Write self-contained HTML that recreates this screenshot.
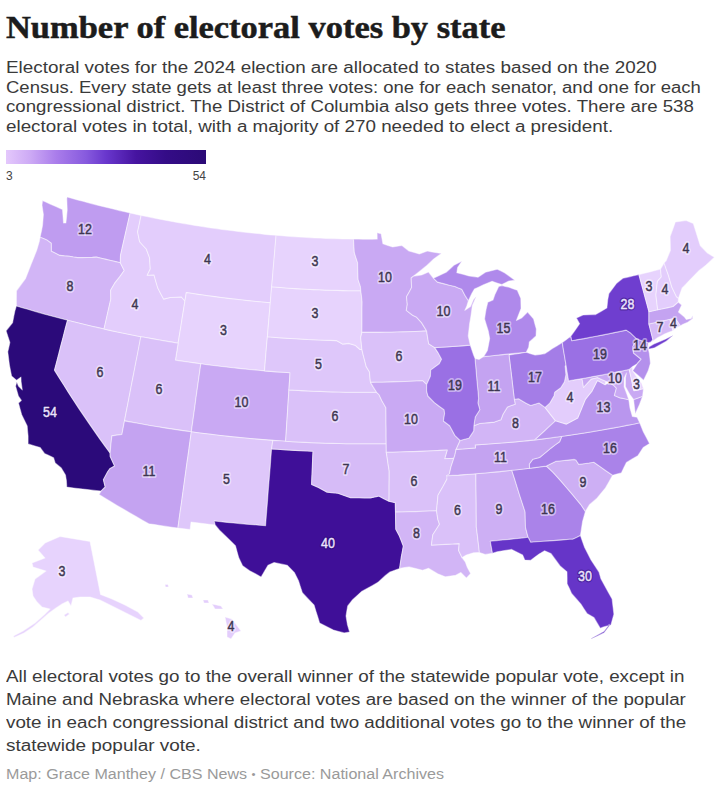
<!DOCTYPE html>
<html><head><meta charset="utf-8"><style>
html,body{margin:0;padding:0;background:#fff;width:720px;height:790px;overflow:hidden}
body{position:relative;font-family:"Liberation Sans",sans-serif;color:#333}
.t,.p,.f,.c{position:absolute;left:6px;white-space:nowrap;transform-origin:0 0}
.t{font-family:"Liberation Serif",serif;font-weight:bold;font-size:32px;line-height:40px;color:#1c1c1c;-webkit-text-stroke:0.5px #1c1c1c}
.p{font-size:16px;line-height:20px;color:#3a3a3a}
.f{font-size:16px;line-height:20px;color:#3a3a3a}
.c{font-size:14px;line-height:18px;color:#9a9a9a}
svg{position:absolute;left:0;top:0}
svg text{font-family:"Liberation Sans",sans-serif;font-size:14.5px;text-anchor:middle;paint-order:stroke;stroke-linejoin:round}
text.dh{fill:none;stroke:rgba(255,255,255,0.45);stroke-width:4px} text.d{fill:#3d3650;stroke:#3d3650;stroke-width:0.45px}
text.wh{fill:none;stroke:rgba(30,5,90,0.4);stroke-width:3px} text.w{fill:#ebe3fc;stroke:#ebe3fc;stroke-width:0.45px}
</style></head><body>
<div class="t" style="top:6.5px;transform:scaleX(1.0761)">Number of electoral votes by state</div><div class="p" style="top:57.8px;transform:scaleX(1.1779)">Electoral votes for the 2024 election are allocated to states based on the 2020</div><div class="p" style="top:77.5px;transform:scaleX(1.1557)">Census. Every state gets at least three votes: one for each senator, and one for each</div><div class="p" style="top:96.7px;transform:scaleX(1.1660)">congressional district. The District of Columbia also gets three votes. There are 538</div><div class="p" style="top:116.7px;transform:scaleX(1.1750)">electoral votes in total, with a majority of 270 needed to elect a president.</div><div class="f" style="top:667px;transform:scaleX(1.1753)">All electoral votes go to the overall winner of the statewide popular vote, except in</div><div class="f" style="top:690px;transform:scaleX(1.1687)">Maine and Nebraska where electoral votes are based on the winner of the popular</div><div class="f" style="top:713px;transform:scaleX(1.1747)">vote in each congressional district and two additional votes go to the winner of the</div><div class="f" style="top:736px;transform:scaleX(1.1840)">statewide popular vote.</div><div class="c" style="top:765px;transform:scaleX(1.1475)">Map: Grace Manthey / CBS News <span style="font-size:10px;vertical-align:1px">•</span> Source: National Archives</div>
<div style="position:absolute;left:6px;top:150px;width:200px;height:14px;background:linear-gradient(90deg,rgb(228,200,252) 0%,rgb(205,170,245) 12%,rgb(170,125,235) 25%,rgb(135,90,222) 40%,rgb(105,55,205) 50%,rgb(70,20,160) 65%,rgb(52,12,135) 80%,rgb(43,10,118) 100%)"></div>
<div style="position:absolute;left:6px;top:168.5px;font-size:12px;line-height:14px;color:#444">3</div>
<div style="position:absolute;left:176px;top:168.5px;width:30px;text-align:right;font-size:12px;line-height:14px;color:#444">54</div>
<svg width="720" height="790" viewBox="0 0 720 790"><g stroke="rgba(255,255,255,0.45)" stroke-width="1.1" stroke-linejoin="round"><path fill="#bf9cf0" d="M42.5,200.5L46.3,202.2L50.0,204.0L53.5,205.5L57.0,206.9L59.7,208.3L62.5,209.6L63.0,216.3L63.5,223.0L65.9,223.0L66.6,216.5L67.2,210.1L67.0,204.3L66.8,198.5L67.2,196.9L72.4,198.4L77.6,199.9L82.9,201.3L88.1,202.7L93.3,204.1L98.6,205.4L103.8,206.7L109.1,208.0L114.3,209.3L119.6,210.6L124.8,211.8L130.1,213.0L128.5,220.0L126.9,227.0L125.3,234.1L123.7,241.1L122.1,248.2L120.5,255.3L120.3,262.7L115.5,261.6L110.7,260.5L106.0,259.4L101.2,258.3L96.4,257.1L92.4,257.4L87.5,257.5L82.5,257.6L77.6,257.6L73.4,257.0L69.3,256.3L64.4,255.9L59.6,255.4L55.4,253.3L51.3,251.3L51.2,243.3L46.7,239.9L43.4,238.5L40.1,237.2L41.7,229.9L42.6,224.9L43.0,219.7L43.4,214.5L42.0,205.2Z"/><path fill="#d2b5f6" d="M40.1,237.2L43.4,238.5L46.7,239.9L51.2,243.3L51.3,251.3L55.4,253.3L59.6,255.4L64.4,255.9L69.3,256.3L73.4,257.0L77.6,257.6L82.5,257.6L87.5,257.5L92.4,257.4L96.4,257.1L101.2,258.3L106.0,259.4L110.7,260.5L115.5,261.6L120.3,262.7L124.2,270.5L119.9,276.6L114.7,283.2L110.6,290.2L110.8,299.0L109.1,306.5L107.4,314.0L105.7,321.5L104.0,329.0L97.9,327.6L91.8,326.2L85.7,324.8L79.6,323.3L73.5,321.8L67.5,320.3L61.8,318.8L56.1,317.3L50.4,315.7L44.7,314.2L39.0,312.6L33.4,311.0L27.7,309.3L22.1,307.7L16.4,306.0L16.4,298.4L16.5,290.8L21.1,284.6L25.6,278.4L28.4,271.2L31.2,264.0L34.1,256.9L36.9,249.7L39.3,241.6Z"/><path fill="#2b0a7a" d="M16.4,306.0L22.1,307.7L27.7,309.3L33.4,311.0L39.0,312.6L44.7,314.2L50.4,315.7L56.1,317.3L61.8,318.8L67.5,320.3L65.3,328.5L63.2,336.8L61.0,345.1L58.9,353.5L56.7,361.8L54.5,370.1L59.2,377.7L64.0,385.3L68.8,392.9L73.7,400.5L78.7,408.1L83.8,415.6L88.9,423.1L94.1,430.6L99.3,438.1L104.7,445.6L110.1,453.0L110.2,456.6L114.6,466.1L109.8,468.7L107.7,471.8L103.4,479.7L105.2,487.0L101.1,491.1L94.3,490.4L87.4,489.6L80.5,488.8L73.7,488.0L66.8,487.1L66.4,480.6L65.5,475.1L61.3,468.0L55.2,463.0L53.6,457.7L49.0,455.6L44.5,453.4L40.2,447.5L34.1,445.7L28.1,443.9L28.1,435.9L27.6,430.9L27.2,425.9L24.4,420.3L21.7,414.7L20.1,408.9L18.5,403.1L21.4,400.4L18.4,396.0L15.6,386.2L16.8,381.9L18.4,386.1L22.3,389.9L21.1,381.5L21.0,377.1L16.6,380.3L11.6,376.1L10.5,370.5L9.4,364.8L8.6,358.3L7.8,351.8L8.9,347.1L9.9,342.5L8.0,336.7L6.1,330.8L9.3,326.8L12.6,322.7L13.7,316.8L14.9,310.9Z"/><path fill="#dac1f9" d="M67.5,320.3L73.6,321.8L79.6,323.3L85.7,324.8L91.8,326.2L98.0,327.6L104.1,329.0L110.2,330.4L116.3,331.7L122.5,333.0L128.6,334.2L134.8,335.5L140.9,336.7L139.3,345.1L137.7,353.5L136.0,361.9L134.4,370.3L132.7,378.7L131.1,387.2L129.4,395.6L127.8,404.0L126.1,412.4L124.5,420.9L123.2,427.7L121.9,434.5L116.9,435.1L111.9,435.9L111.1,442.7L110.6,447.9L110.1,453.0L104.7,445.6L99.3,438.1L94.1,430.6L88.9,423.1L83.8,415.6L78.7,408.1L73.7,400.5L68.8,392.9L64.0,385.3L59.2,377.7L54.5,370.1L56.7,361.8L58.9,353.5L61.0,345.1L63.2,336.8L65.3,328.5Z"/><path fill="#e3cdfc" d="M130.1,213.0L135.6,214.2L141.1,215.4L139.4,223.6L137.6,231.8L138.6,236.8L139.6,241.7L143.0,245.5L146.4,249.2L149.5,257.6L149.9,263.3L150.3,268.9L147.2,275.3L150.6,275.1L154.0,274.9L155.8,281.3L157.7,287.7L160.6,293.4L163.6,299.1L170.1,297.5L175.7,297.2L181.3,296.9L184.9,301.0L183.6,309.4L182.2,317.8L180.9,326.3L179.5,334.7L178.1,343.2L171.9,342.1L165.7,341.1L159.5,340.0L153.3,338.9L147.1,337.8L140.9,336.7L134.8,335.5L128.6,334.2L122.4,333.0L116.3,331.7L110.1,330.4L104.0,329.0L105.7,321.5L107.4,314.0L109.1,306.5L110.8,299.0L110.6,290.2L114.7,283.2L119.9,276.6L124.2,270.5L120.3,262.7L120.5,255.3L122.1,248.2L123.7,241.1L125.3,234.1L126.9,227.0L128.5,220.0Z"/><path fill="#e3cdfc" d="M141.1,215.4L146.5,216.5L151.8,217.6L157.2,218.7L162.5,219.7L167.9,220.7L173.3,221.7L178.7,222.7L184.0,223.6L189.4,224.5L194.8,225.4L200.2,226.2L205.6,227.1L211.0,227.9L216.4,228.6L221.8,229.4L227.3,230.1L232.7,230.8L238.1,231.5L243.5,232.1L249.0,232.7L254.4,233.3L259.8,233.8L265.3,234.4L270.7,234.9L276.2,235.3L275.4,243.7L274.7,252.1L274.0,260.5L273.3,268.9L272.6,277.4L271.8,285.8L271.1,294.3L270.4,302.8L264.8,302.3L259.1,301.8L253.5,301.2L247.9,300.6L242.3,300.0L236.7,299.4L231.0,298.8L225.4,298.1L219.8,297.4L214.2,296.6L208.6,295.9L203.0,295.1L197.4,294.3L191.9,293.4L186.3,292.6L184.9,301.0L181.3,296.9L175.7,297.2L170.1,297.5L163.6,299.1L160.6,293.4L157.7,287.7L155.8,281.3L154.0,274.9L150.6,275.1L147.2,275.3L150.3,268.9L149.9,263.3L149.5,257.6L146.4,249.2L143.0,245.5L139.6,241.7L138.6,236.8L137.6,231.8L139.4,223.6Z"/><path fill="#e7d3fd" d="M186.3,292.6L192.3,293.5L198.2,294.4L204.2,295.3L210.2,296.1L216.2,296.9L222.2,297.7L228.2,298.4L234.2,299.1L240.2,299.8L246.2,300.5L252.2,301.1L258.2,301.7L264.3,302.2L270.3,302.7L269.6,311.2L268.8,319.7L268.1,328.2L267.4,336.7L266.6,345.3L265.9,353.8L265.2,362.3L264.5,370.9L258.1,370.3L251.7,369.7L245.3,369.1L238.9,368.4L232.6,367.8L226.2,367.0L219.8,366.3L213.5,365.5L207.1,364.7L200.8,363.8L194.4,362.9L188.1,362.0L181.8,361.1L175.4,360.1L176.8,351.6L178.1,343.2L179.5,334.7L180.9,326.3L182.2,317.8L183.6,309.4L184.9,301.0Z"/><path fill="#dac1f9" d="M140.8,336.6L147.0,337.8L153.2,338.9L159.5,340.0L165.7,341.1L171.9,342.1L178.1,343.2L176.8,351.6L175.4,360.1L181.8,361.1L188.1,362.0L194.4,362.9L200.8,363.8L199.6,372.3L198.4,380.8L197.2,389.3L196.0,397.8L194.9,406.3L193.7,414.8L192.5,423.3L191.3,431.8L184.6,430.9L177.9,429.9L171.2,428.9L164.5,427.9L157.8,426.8L151.2,425.7L144.5,424.5L137.8,423.3L131.2,422.1L124.5,420.9L126.1,412.4L127.8,404.0L129.4,395.6L131.0,387.1L132.7,378.7L134.3,370.3L135.9,361.9L137.6,353.5L139.2,345.0Z"/><path fill="#c9a9f3" d="M200.8,363.8L207.1,364.7L213.5,365.5L219.8,366.3L226.2,367.0L232.6,367.8L238.9,368.4L245.3,369.1L251.7,369.7L258.1,370.3L264.5,370.9L270.8,371.4L277.2,371.9L283.6,372.3L290.0,372.7L289.5,381.3L288.9,389.9L288.4,398.4L287.8,407.0L287.3,415.6L286.7,424.1L286.2,432.7L285.6,441.3L278.9,440.8L272.1,440.3L265.4,439.8L258.6,439.3L251.9,438.7L245.1,438.1L238.4,437.4L231.6,436.7L224.9,436.0L218.2,435.2L211.5,434.4L204.7,433.6L198.0,432.7L191.3,431.8L192.5,423.3L193.7,414.8L194.9,406.3L196.0,397.8L197.2,389.3L198.4,380.8L199.6,372.3Z"/><path fill="#c4a3f1" d="M124.5,420.9L131.2,422.1L137.8,423.3L144.5,424.5L151.2,425.7L157.8,426.8L164.5,427.9L171.2,428.9L177.9,429.9L184.6,430.9L191.3,431.8L190.2,439.8L189.1,447.9L188.0,455.9L186.8,463.9L185.7,472.0L184.6,480.0L183.5,488.0L182.4,496.0L181.3,504.0L180.1,512.0L179.0,520.0L177.9,528.0L172.1,527.2L166.3,526.4L160.4,525.5L154.6,524.6L148.8,523.7L142.5,520.2L136.2,516.6L130.0,513.0L123.7,509.3L117.5,505.7L111.4,502.0L105.2,498.3L99.1,494.5L101.1,491.1L105.2,487.0L103.4,479.7L107.7,471.8L109.8,468.7L114.6,466.1L110.2,456.6L110.1,453.0L110.6,447.9L111.1,442.7L111.9,435.9L116.9,435.1L121.9,434.5L123.2,427.7Z"/><path fill="#dec7fa" d="M191.3,431.8L197.6,432.7L203.8,433.5L210.1,434.2L216.3,435.0L222.6,435.7L228.8,436.4L235.1,437.1L241.4,437.7L247.7,438.3L253.9,438.9L260.2,439.4L266.5,439.9L272.8,440.4L271.6,448.9L270.9,457.5L270.3,466.0L269.6,474.6L268.9,483.1L268.2,491.6L267.6,500.2L266.9,508.7L266.2,517.2L265.6,525.7L259.2,525.3L252.7,524.7L246.3,524.2L239.9,523.6L233.5,523.0L227.1,522.4L220.7,521.7L214.3,521.0L215.2,524.9L209.2,524.2L203.1,523.5L197.1,522.8L191.0,522.0L190.1,529.6L184.0,528.8L177.9,528.0L179.0,520.0L180.1,512.0L181.3,504.0L182.4,496.0L183.5,488.0L184.6,480.0L185.7,472.0L186.8,463.9L188.0,455.9L189.1,447.9L190.2,439.8Z"/><path fill="#3f0f98" d="M271.6,448.9L277.5,449.3L283.4,449.7L289.3,450.1L295.2,450.4L301.1,450.7L307.1,451.0L313.0,451.3L312.6,459.6L312.3,467.9L311.9,476.2L311.6,484.5L318.5,487.5L322.6,489.8L326.7,492.1L332.3,492.7L338.0,493.3L344.2,495.5L350.6,497.8L354.8,497.8L359.0,497.8L364.7,497.9L370.3,497.9L374.6,497.0L378.8,496.1L383.9,498.7L389.0,501.3L395.3,502.7L395.4,507.4L395.5,512.1L395.6,520.7L395.8,529.2L399.4,536.0L401.4,541.0L403.3,546.1L402.4,551.3L401.4,556.4L400.5,562.4L399.6,568.4L394.7,570.2L389.9,571.9L385.4,575.4L378.0,582.3L372.5,585.4L367.0,588.5L361.5,591.6L356.9,595.8L352.3,600.0L347.7,605.9L346.8,611.0L346.0,616.0L347.4,624.5L349.6,632.1L344.2,632.9L338.8,631.5L333.4,630.1L326.5,626.6L319.6,623.0L317.8,617.0L315.9,611.1L314.1,605.1L308.2,598.9L302.4,592.7L300.4,586.7L298.5,580.7L294.4,572.6L287.3,565.3L280.7,563.9L274.1,562.6L268.0,565.2L264.6,571.1L261.1,577.0L255.4,573.8L249.6,570.7L242.6,565.8L238.8,557.8L237.1,551.8L235.5,545.8L231.5,541.8L227.4,537.8L223.4,534.0L219.5,530.2L215.2,524.9L214.3,521.0L220.7,521.7L227.1,522.4L233.5,523.0L239.9,523.6L246.3,524.2L252.7,524.7L259.2,525.3L265.6,525.7L266.2,517.2L266.9,508.7L267.6,500.2L268.2,491.6L268.9,483.1L269.6,474.6L270.3,466.0L270.9,457.5Z"/><path fill="#d6bbf7" d="M272.8,440.4L279.4,440.8L286.1,441.3L292.8,441.7L299.4,442.1L306.1,442.4L312.8,442.7L319.4,443.0L326.1,443.2L332.8,443.4L339.5,443.5L346.1,443.7L352.8,443.8L359.5,443.8L366.2,443.8L372.8,443.8L379.5,443.8L386.2,443.7L386.3,452.3L387.3,458.6L388.2,464.8L389.2,471.1L389.2,478.7L389.1,486.2L389.1,493.8L389.0,501.3L383.9,498.7L378.8,496.1L374.6,497.0L370.3,497.9L364.7,497.9L359.0,497.8L354.8,497.8L350.6,497.8L344.2,495.5L338.0,493.3L332.3,492.7L326.7,492.1L322.6,489.8L318.5,487.5L311.6,484.5L311.9,476.2L312.3,467.9L312.6,459.6L313.0,451.3L307.1,451.0L301.1,450.7L295.2,450.4L289.3,450.1L283.4,449.7L277.5,449.3L271.6,448.9Z"/><path fill="#dac1f9" d="M288.9,389.9L295.2,390.2L301.4,390.6L307.7,390.9L313.9,391.2L320.2,391.4L326.5,391.7L332.7,391.9L339.0,392.0L345.3,392.2L351.5,392.2L357.8,392.3L364.1,392.3L370.3,392.3L376.6,392.3L379.2,394.9L381.9,400.8L385.9,407.7L386.0,414.9L386.0,422.1L386.1,429.3L386.1,436.5L386.2,443.7L379.5,443.8L372.8,443.8L366.1,443.8L359.4,443.8L352.6,443.8L345.9,443.7L339.2,443.5L332.5,443.4L325.8,443.2L319.1,442.9L312.4,442.7L305.7,442.4L299.0,442.0L292.3,441.7L285.6,441.3L286.2,432.7L286.7,424.1L287.3,415.6L287.8,407.0L288.4,398.4Z"/><path fill="#dec7fa" d="M267.4,336.7L273.1,337.2L278.9,337.7L284.6,338.1L290.3,338.5L296.1,338.8L301.8,339.1L307.6,339.5L313.3,339.7L319.1,340.0L324.9,340.2L330.6,340.4L336.4,340.6L342.5,344.1L348.8,343.4L355.0,345.2L360.0,349.5L361.9,349.5L363.1,354.6L364.7,360.6L366.2,366.6L369.4,371.8L369.9,377.1L370.5,382.4L373.5,387.4L376.6,392.3L370.3,392.3L364.1,392.3L357.8,392.3L351.5,392.2L345.3,392.2L339.0,392.0L332.7,391.9L326.5,391.7L320.2,391.4L313.9,391.2L307.7,390.9L301.4,390.6L295.2,390.2L288.9,389.9L289.5,381.3L290.0,372.7L283.6,372.3L277.2,371.9L270.8,371.4L264.5,370.9L265.2,362.3L265.9,353.8L266.6,345.3Z"/><path fill="#e7d3fd" d="M271.6,286.8L277.6,287.3L283.5,287.8L289.4,288.2L295.4,288.6L301.3,288.9L307.3,289.3L313.2,289.6L319.2,289.8L325.1,290.1L331.1,290.3L337.0,290.4L343.0,290.6L348.9,290.7L354.9,290.8L360.8,290.8L361.5,296.3L362.1,301.7L362.0,309.4L362.0,317.0L362.0,324.7L361.9,332.4L360.7,337.5L361.3,343.5L361.9,349.5L360.0,349.5L355.0,345.2L348.8,343.4L342.5,344.1L336.4,340.6L330.6,340.4L324.9,340.2L319.1,340.0L313.3,339.7L307.6,339.5L301.8,339.1L296.1,338.8L290.3,338.5L284.6,338.1L278.9,337.7L273.1,337.2L267.4,336.7L268.1,328.4L268.8,320.1L269.5,311.7L270.2,303.4L270.9,295.1Z"/><path fill="#e7d3fd" d="M276.0,235.3L281.6,235.8L287.1,236.2L292.6,236.6L298.1,237.0L303.7,237.3L309.2,237.6L314.7,237.9L320.3,238.1L325.8,238.4L331.4,238.6L336.9,238.7L342.4,238.9L348.0,239.0L353.5,239.1L353.9,245.8L354.3,252.5L355.9,257.6L357.6,262.7L357.8,271.2L358.1,279.6L360.4,286.4L360.8,290.8L354.9,290.8L348.9,290.7L343.0,290.6L337.0,290.4L331.1,290.3L325.1,290.1L319.2,289.8L313.2,289.6L307.3,289.3L301.3,288.9L295.4,288.6L289.4,288.2L283.5,287.8L277.6,287.3L271.6,286.8L272.3,279.4L272.9,272.0L273.5,264.7L274.2,257.3L274.8,250.0L275.4,242.6Z"/><path fill="#c9a9f3" d="M353.5,239.1L358.2,239.1L363.0,239.2L367.7,239.2L372.4,239.2L377.2,239.1L377.1,232.7L381.1,233.7L382.0,238.7L382.9,243.8L387.8,245.4L392.7,246.9L397.3,246.2L401.8,245.4L405.4,248.2L408.9,251.0L414.2,252.5L419.4,253.9L423.4,252.5L427.4,251.0L432.0,251.9L436.7,252.7L441.4,253.5L437.5,256.3L433.6,259.1L429.8,262.7L425.9,266.3L422.5,269.0L419.1,271.7L413.4,276.2L411.2,278.0L411.4,282.8L411.6,287.6L409.1,292.2L406.5,296.8L407.3,304.4L406.3,310.4L412.6,315.3L416.3,316.9L421.5,322.6L426.6,330.9L420.7,331.2L414.8,331.5L409.0,331.7L403.1,331.9L397.2,332.0L391.3,332.2L385.4,332.3L379.6,332.4L373.7,332.4L367.8,332.4L361.9,332.4L362.0,324.7L362.0,317.0L362.0,309.4L362.1,301.7L361.5,296.3L360.8,290.8L360.4,286.4L358.1,279.6L357.8,271.2L357.6,262.7L355.9,257.6L354.3,252.5L353.9,245.8Z"/><path fill="#dac1f9" d="M361.9,332.4L367.8,332.4L373.7,332.4L379.6,332.4L385.4,332.3L391.3,332.2L397.2,332.0L403.1,331.9L409.0,331.7L414.8,331.5L420.7,331.2L426.6,330.9L427.6,337.3L428.7,343.7L434.7,347.6L438.0,352.6L441.6,359.2L439.3,363.7L435.0,366.9L430.7,370.1L430.4,376.2L426.7,384.6L422.5,380.7L416.7,381.0L411.0,381.2L405.2,381.5L399.4,381.7L393.6,381.9L387.8,382.1L382.0,382.2L376.3,382.3L370.5,382.4L369.9,377.1L369.4,371.8L366.2,366.6L364.7,360.6L363.1,354.6L361.9,349.5L361.3,343.5L360.7,337.5Z"/><path fill="#c9a9f3" d="M370.5,382.4L376.3,382.3L382.0,382.2L387.8,382.1L393.6,381.9L399.4,381.7L405.2,381.5L411.0,381.2L416.7,381.0L422.5,380.7L426.7,384.6L426.6,390.9L427.9,396.0L434.4,402.6L439.2,406.2L444.1,409.8L444.6,413.5L443.4,421.0L449.7,425.8L452.4,430.7L455.1,435.7L460.2,440.5L456.1,449.4L455.0,454.6L453.9,458.2L449.3,458.5L444.7,458.7L447.2,450.0L440.5,450.4L433.7,450.7L426.9,451.1L420.2,451.4L413.4,451.6L406.6,451.8L399.9,452.0L393.1,452.2L386.3,452.3L386.2,443.7L386.1,436.5L386.1,429.3L386.0,422.1L386.0,414.9L385.9,407.7L381.9,400.8L379.2,394.9L376.6,392.3L373.5,387.4Z"/><path fill="#dac1f9" d="M386.3,452.3L393.1,452.2L399.9,452.0L406.6,451.8L413.4,451.6L420.2,451.4L426.9,451.1L433.7,450.7L440.5,450.4L447.2,450.0L444.7,458.7L449.3,458.5L453.9,458.2L451.0,466.9L449.4,473.9L446.9,479.2L443.1,486.3L438.0,495.2L437.3,502.9L436.5,510.7L429.7,511.0L422.9,511.3L416.0,511.6L409.2,511.8L402.3,512.0L395.5,512.1L395.4,507.4L395.3,502.7L389.0,501.3L389.1,493.8L389.1,486.2L389.2,478.7L389.2,471.1L388.2,464.8L387.3,458.6Z"/><path fill="#d2b5f6" d="M395.5,512.1L402.3,512.0L409.2,511.8L416.0,511.6L422.9,511.3L429.7,511.0L436.5,510.7L437.8,519.2L439.5,524.2L436.2,529.5L432.8,534.8L432.1,540.0L431.4,545.1L438.4,544.8L445.3,544.4L452.2,544.0L459.2,543.6L458.6,550.4L462.0,557.6L465.3,561.9L467.1,566.9L470.6,573.5L466.4,578.1L460.8,572.5L455.7,575.3L450.5,576.1L445.3,576.8L437.7,573.8L433.1,571.0L428.5,568.3L422.6,570.2L415.8,568.6L409.1,566.9L404.4,567.6L399.6,568.4L400.5,562.4L401.4,556.4L402.4,551.3L403.3,546.1L401.4,541.0L399.4,536.0L395.8,529.2L395.6,520.7Z"/><path fill="#dac1f9" d="M446.7,475.8L452.6,475.4L458.4,475.1L464.2,474.6L470.0,474.2L475.9,473.7L475.9,481.4L476.0,489.0L476.1,496.6L476.2,504.2L476.2,511.8L476.3,519.3L476.3,526.9L477.4,535.4L478.4,543.9L479.4,552.4L473.5,552.8L466.3,555.0L462.0,557.6L458.6,550.4L459.2,543.6L452.2,544.0L445.3,544.4L438.4,544.8L431.4,545.1L432.1,540.0L432.8,534.8L436.2,529.5L439.5,524.2L437.8,519.2L436.5,510.7L437.3,502.9L438.0,495.2L443.1,486.3L446.9,479.2Z"/><path fill="#cdaff4" d="M475.9,473.7L481.9,473.2L487.9,472.7L493.9,472.1L499.9,471.6L505.9,470.9L511.8,470.3L514.5,478.6L517.1,487.0L519.7,495.3L522.4,503.6L525.1,511.9L525.3,519.6L525.5,527.3L526.8,532.3L528.1,537.3L521.8,538.1L515.5,538.7L509.2,539.4L502.9,540.0L496.6,540.6L490.3,541.2L491.4,547.3L492.5,553.3L485.5,554.4L479.4,552.4L478.4,543.9L477.4,535.4L476.3,526.9L476.3,519.3L476.2,511.8L476.2,504.2L476.1,496.6L476.0,489.0L475.9,481.4Z"/><path fill="#aa83e9" d="M511.8,470.3L518.8,469.5L525.7,468.7L532.6,467.9L539.5,467.0L546.4,466.1L552.8,472.1L557.0,476.7L561.2,481.3L566.4,487.5L571.7,493.6L576.1,499.0L580.6,504.3L585.4,511.4L584.0,516.4L582.6,521.3L581.5,528.4L580.4,535.5L576.6,537.4L572.7,539.2L569.8,539.3L563.3,539.9L556.8,540.4L550.3,540.9L543.8,541.3L537.2,541.8L530.7,542.2L528.1,537.3L526.8,532.3L525.5,527.3L525.3,519.6L525.1,511.9L522.4,503.6L519.7,495.3L517.1,487.0L514.5,478.6Z"/><path fill="#6635c8" d="M490.3,541.2L496.6,540.6L502.9,540.0L509.2,539.4L515.5,538.7L521.8,538.1L528.1,537.3L530.7,542.2L537.2,541.8L543.8,541.3L550.3,540.9L556.8,540.4L563.3,539.9L569.8,539.3L572.7,539.2L576.6,537.4L580.4,535.5L582.4,541.2L584.4,546.9L587.6,553.3L590.9,559.7L595.0,565.9L599.0,572.1L600.9,578.7L604.6,585.5L608.3,592.3L612.1,599.1L613.0,606.7L613.9,614.2L612.4,619.6L610.9,624.9L603.3,627.0L600.3,628.3L597.1,622.9L593.9,617.4L587.0,613.4L583.9,608.7L580.9,604.0L576.2,598.7L571.6,593.4L569.4,588.6L567.1,583.8L567.1,577.8L567.0,571.8L560.1,565.9L555.5,559.7L550.9,553.4L544.6,550.8L539.0,554.1L534.9,557.1L530.8,560.2L524.8,560.0L522.7,555.1L517.2,552.3L511.7,549.4L504.4,550.6L497.1,551.7L492.5,553.3L491.4,547.3Z M610.1,625.1L604.2,632.8L597.6,636.0L590.9,639.1L591.5,638.2L597.8,634.7L604.0,631.2L609.2,624.4Z"/><path fill="#cdaff4" d="M546.4,466.1L550.9,463.7L555.5,461.4L561.8,460.7L568.0,460.1L574.3,459.4L575.9,460.0L578.8,464.4L583.8,463.7L588.9,463.0L593.9,462.2L600.1,466.6L606.3,471.0L612.6,475.3L609.0,481.7L605.4,488.1L601.2,493.1L597.0,498.2L593.2,501.4L589.4,504.7L585.4,511.4L580.6,504.3L576.1,499.0L571.7,493.6L566.4,487.5L561.2,481.3L557.0,476.7L552.8,472.1Z"/><path fill="#aa83e9" d="M639.7,422.8L633.3,424.1L626.8,425.4L620.3,426.7L613.8,427.9L607.3,429.0L600.9,430.2L594.4,431.3L587.8,432.4L581.3,433.4L574.8,434.4L568.3,435.4L561.8,436.3L559.6,441.7L555.2,444.9L550.8,448.2L547.1,451.3L543.4,454.4L539.6,457.5L532.9,459.2L529.3,464.0L529.5,468.3L535.1,467.6L540.7,466.8L546.4,466.1L550.9,463.7L555.5,461.4L561.8,460.7L568.0,460.1L574.3,459.4L575.9,460.0L578.8,464.4L583.8,463.7L588.9,463.0L593.9,462.2L600.1,466.6L606.3,471.0L612.6,475.3L616.9,474.1L621.3,472.9L623.8,467.7L626.4,462.4L632.1,459.0L637.8,455.7L643.2,447.5L649.5,443.6L646.4,437.6L643.3,431.7L641.5,427.3Z"/><path fill="#c4a3f1" d="M561.8,436.3L555.0,437.3L548.3,438.2L541.5,439.1L534.8,439.9L528.2,440.6L521.6,441.3L515.0,441.9L508.3,442.5L501.7,443.0L495.1,443.5L488.5,444.0L481.9,444.5L475.2,444.9L475.5,447.9L469.0,448.5L462.5,449.0L456.1,449.4L455.0,454.6L453.9,458.2L451.0,466.9L449.4,473.9L446.7,475.8L452.6,475.4L458.4,475.1L464.2,474.6L470.0,474.2L475.9,473.7L481.9,473.2L487.9,472.7L493.9,472.1L499.9,471.6L505.9,470.9L511.8,470.3L517.7,469.7L523.6,469.0L529.5,468.3L529.3,464.0L532.9,459.2L539.6,457.5L543.4,454.4L547.1,451.3L550.8,448.2L555.2,444.9L559.6,441.7Z"/><path fill="#d2b5f6" d="M545.0,407.4L550.2,414.1L555.5,420.8L550.3,425.6L545.2,430.4L540.0,435.2L534.8,439.9L528.2,440.6L521.6,441.3L515.0,441.9L508.3,442.5L501.7,443.0L495.1,443.5L488.5,444.0L481.9,444.5L475.2,444.9L475.5,447.9L469.0,448.5L462.5,449.0L456.1,449.4L460.2,440.5L464.5,439.3L468.8,438.2L473.7,430.9L473.9,425.7L479.7,423.5L484.6,423.0L489.5,422.6L494.4,422.1L500.9,419.7L503.0,414.3L507.5,406.9L511.3,405.6L515.2,404.3L514.3,399.2L518.5,398.7L525.7,403.0L530.7,405.5L534.8,404.3L539.0,403.0Z"/><path fill="#b996ee" d="M639.7,422.8L633.2,424.2L626.7,425.4L620.2,426.7L613.6,427.9L607.1,429.1L600.5,430.3L594.0,431.4L587.4,432.5L580.9,433.5L574.3,434.5L567.7,435.5L561.1,436.5L554.6,437.4L548.0,438.3L541.4,439.1L534.8,439.9L540.0,435.2L545.2,430.4L550.3,425.6L555.5,420.8L561.0,422.5L566.5,424.1L572.1,421.1L577.7,418.0L581.6,408.6L585.4,399.3L588.7,395.2L592.0,391.1L594.7,385.8L597.4,380.5L601.2,382.6L605.1,384.7L609.1,382.7L613.7,385.3L616.4,388.2L614.4,395.6L620.3,397.9L624.6,398.8L628.8,399.7L630.0,408.2L632.4,416.5L637.1,417.2Z M642.6,396.2L638.1,397.9L633.6,399.6L634.4,406.7L635.3,413.8L639.5,404.5Z"/><path fill="#e3cdfc" d="M568.6,380.9L567.3,373.1L566.0,365.3L565.1,366.1L565.9,374.7L564.4,381.9L560.7,387.7L554.7,392.1L554.0,395.7L549.7,403.2L545.0,407.4L550.2,414.1L555.5,420.8L561.0,422.5L566.5,424.1L572.1,421.1L577.7,418.0L581.6,408.6L585.4,399.3L588.7,395.2L592.0,391.1L594.7,385.8L597.4,380.5L601.2,382.6L605.1,384.7L605.9,381.2L601.7,379.4L597.5,377.5L591.1,379.1L587.3,383.2L583.5,387.4L582.8,383.0L582.0,378.6L577.5,379.4L573.1,380.1Z"/><path fill="#a47de7" d="M509.0,354.9L514.8,354.1L520.5,353.2L526.2,352.3L530.6,353.7L534.9,355.1L540.0,354.4L545.0,353.6L548.5,351.2L552.0,348.8L557.1,345.7L562.3,342.6L563.5,350.2L564.8,357.7L566.0,365.3L565.1,366.1L565.9,374.7L564.4,381.9L560.7,387.7L554.7,392.1L554.0,395.7L549.7,403.2L545.0,407.4L539.0,403.0L534.8,404.3L530.7,405.5L525.7,403.0L518.5,398.7L514.3,399.2L513.4,391.8L512.5,384.4L511.7,377.1L510.8,369.7L509.9,362.3Z"/><path fill="#c9a9f3" d="M582.0,378.6L587.9,377.6L593.8,376.5L599.7,375.4L605.7,374.2L611.6,373.1L617.5,371.9L623.3,370.7L629.2,369.4L630.8,376.5L632.3,383.6L633.9,390.7L638.7,389.7L643.5,388.6L642.6,396.2L638.1,397.9L633.6,399.6L629.7,394.2L625.4,386.4L625.5,377.6L626.5,373.0L624.2,377.9L624.1,386.7L627.1,394.8L628.8,399.7L624.6,398.8L620.3,397.9L614.4,395.6L616.4,388.2L613.7,385.3L609.1,382.7L605.9,381.2L601.7,379.4L597.5,377.5L591.1,379.1L587.3,383.2L583.5,387.4L582.8,383.0Z"/><path fill="#e7d3fd" d="M629.2,369.4L632.5,366.6L632.7,370.8L635.8,375.4L641.5,382.9L643.5,388.6L638.7,389.7L633.9,390.7L632.3,383.6L630.8,376.5Z"/><path fill="#9a70e4" d="M562.3,342.6L566.6,339.4L570.9,336.1L571.7,340.7L577.8,339.6L583.9,338.6L589.9,337.4L596.0,336.3L602.1,335.1L608.1,333.9L614.2,332.6L620.2,331.4L626.2,330.1L630.2,332.7L636.9,339.1L632.9,346.5L633.5,353.0L641.2,359.2L637.2,363.7L632.5,366.6L629.2,369.4L623.2,370.7L617.2,371.9L611.1,373.2L605.1,374.4L599.0,375.5L592.9,376.6L586.9,377.7L580.8,378.8L574.7,379.8L568.6,380.9L567.3,373.2L566.1,365.6L564.8,357.9L563.5,350.3Z"/><path fill="#b490ec" d="M636.9,339.1L642.5,340.9L648.2,342.7L648.1,348.0L649.3,353.0L649.9,358.1L650.4,363.3L648.2,370.8L643.6,380.2L638.5,375.7L632.7,370.8L637.2,363.7L641.2,359.2L633.5,353.0L632.9,346.5Z"/><path fill="#6f3ecf" d="M571.7,340.7L577.8,339.6L583.9,338.6L589.9,337.4L596.0,336.3L602.1,335.1L608.1,333.9L614.2,332.6L620.2,331.4L626.2,330.1L630.2,332.7L636.9,339.1L642.5,340.9L648.2,342.7L651.2,341.9L652.9,339.8L650.9,331.9L648.9,324.0L648.9,317.8L648.9,311.7L646.9,304.2L644.9,296.8L642.9,289.4L640.9,282.0L638.9,274.6L633.6,275.8L628.2,277.1L622.9,278.3L619.7,280.8L616.6,283.2L612.7,288.4L608.9,293.6L607.7,299.9L606.9,307.9L601.3,311.3L595.6,314.6L589.3,314.7L583.0,314.9L579.7,316.4L576.4,318.0L579.6,323.7L575.3,329.9L570.9,336.1Z M648.5,349.3L654.7,347.8L660.5,344.5L666.3,341.2L669.8,338.2L673.3,335.2L669.5,337.1L665.7,338.9L659.8,341.5L653.8,344.0L649.2,346.8Z"/><path fill="#d6bbf7" d="M648.9,324.0L654.2,322.8L659.4,321.7L664.6,320.5L669.9,319.3L671.4,325.0L672.9,330.7L668.7,332.3L664.5,333.9L661.0,335.9L657.5,337.8L654.4,339.9L651.2,341.9L652.9,339.8L650.9,331.9Z"/><path fill="#e3cdfc" d="M669.9,319.3L675.0,318.0L677.8,321.8L680.5,325.7L677.3,327.5L672.3,331.1L672.9,330.7L671.4,325.0Z"/><path fill="#c4a3f1" d="M648.9,311.7L653.3,310.8L657.7,309.8L662.8,308.7L667.9,307.6L673.0,306.5L678.2,302.0L681.7,305.0L678.4,312.1L684.2,316.7L686.3,319.4L691.3,318.4L692.4,315.4L692.7,318.8L687.8,322.3L683.0,324.2L680.5,325.7L677.8,321.8L675.0,318.0L669.9,319.3L664.6,320.5L659.4,321.7L654.2,322.8L648.9,324.0L648.9,317.8Z"/><path fill="#e7d3fd" d="M638.9,274.6L644.3,273.2L649.7,271.9L655.1,270.5L660.5,269.1L661.3,276.9L657.4,281.4L656.6,288.2L655.9,295.0L656.8,302.4L657.7,309.8L653.3,310.8L648.9,311.7L646.9,304.2L644.9,296.8L642.9,289.4L640.9,282.0Z"/><path fill="#e3cdfc" d="M660.5,269.1L664.1,262.9L666.3,269.4L668.6,275.8L670.2,281.5L671.9,287.3L674.2,292.0L676.5,296.7L678.5,298.2L678.2,302.0L673.0,306.5L667.9,307.6L662.8,308.7L657.7,309.8L656.8,302.4L655.9,295.0L656.6,288.2L657.4,281.4L661.3,276.9Z"/><path fill="#e3cdfc" d="M664.1,262.9L666.3,260.6L668.3,255.6L670.4,250.6L670.3,243.6L670.1,236.6L672.8,229.3L675.4,221.9L677.4,221.7L681.8,221.1L686.2,220.5L689.7,222.0L693.3,223.5L695.6,230.8L697.9,238.2L700.2,245.5L703.8,249.3L707.4,253.1L714.4,257.2L710.2,261.2L706.0,265.1L702.4,268.0L698.8,270.8L693.9,275.8L689.0,280.8L685.6,284.4L682.1,288.0L680.3,293.1L678.5,298.2L676.5,296.7L674.2,292.0L671.9,287.3L670.2,281.5L668.6,275.8L666.3,269.4Z"/><path fill="#c4a3f1" d="M508.9,353.9L502.6,354.6L496.3,355.3L490.0,356.0L483.7,356.6L479.1,359.4L475.0,358.4L475.7,366.5L476.4,374.5L477.1,382.5L477.9,390.5L478.6,398.6L477.9,402.9L479.8,409.7L475.2,417.0L473.9,425.7L479.7,423.5L484.6,423.0L489.5,422.6L494.4,422.1L500.9,419.7L503.0,414.3L507.5,406.9L511.3,405.6L515.2,404.3L514.3,399.2L513.4,391.7L512.5,384.1L511.6,376.5L510.7,369.0L509.8,361.5Z"/><path fill="#9a70e4" d="M434.7,347.6L440.6,347.3L446.6,346.9L452.5,346.5L458.4,346.1L464.3,345.6L470.2,345.1L471.9,350.1L473.6,355.1L475.0,358.4L475.7,366.5L476.4,374.5L477.1,382.5L477.9,390.5L478.6,398.6L477.9,402.9L479.8,409.7L475.2,417.0L473.9,425.7L473.7,430.9L468.8,438.2L464.5,439.3L460.2,440.5L455.1,435.7L452.4,430.7L449.7,425.8L443.4,421.0L444.6,413.5L444.1,409.8L439.2,406.2L434.4,402.6L427.9,396.0L426.6,390.9L426.7,384.6L430.4,376.2L430.7,370.1L435.0,366.9L439.3,363.7L441.6,359.2L438.0,352.6Z"/><path fill="#c9a9f3" d="M434.7,347.6L440.6,347.3L446.6,346.9L452.5,346.5L458.4,346.1L464.3,345.6L470.2,345.1L469.2,340.6L468.2,336.0L468.9,329.9L469.6,323.7L470.8,316.8L471.6,311.1L472.3,305.5L476.3,296.6L473.5,299.4L470.5,306.5L464.8,310.4L466.8,306.0L468.4,300.7L465.3,295.9L461.8,289.3L458.4,287.9L455.0,286.5L449.5,285.2L443.4,283.6L437.4,282.1L433.4,278.2L428.5,272.1L425.1,273.5L421.6,275.0L417.5,275.6L413.4,276.2L411.2,278.0L411.4,282.8L411.6,287.6L409.1,292.2L406.5,296.8L407.3,304.4L406.3,310.4L412.6,315.3L416.3,316.9L421.5,322.6L426.6,330.9L427.6,337.3L428.7,343.7Z"/><path fill="#af89eb" d="M508.9,353.9L514.7,353.4L520.5,352.8L526.2,352.3L528.7,347.3L529.3,342.0L532.7,339.0L536.0,335.9L536.3,328.9L534.9,324.0L533.6,319.0L527.6,312.1L524.6,315.0L521.6,318.0L516.4,320.4L518.7,314.5L521.0,308.6L520.9,303.5L520.8,298.4L517.3,290.2L512.9,288.7L508.4,287.1L505.2,286.4L502.0,285.6L498.7,286.5L494.8,294.7L493.0,300.0L487.8,302.3L486.1,309.3L485.3,314.1L484.6,318.9L486.4,324.9L488.3,330.9L489.7,338.5L488.6,344.4L487.4,350.4L483.7,356.6L490.0,356.0L496.3,355.3L502.6,354.6Z M501.9,284.5L497.0,282.9L492.1,281.3L487.8,283.0L483.5,284.8L478.9,286.9L474.4,289.1L471.8,293.6L468.4,300.7L465.3,295.9L461.8,289.3L458.4,287.9L455.0,286.5L449.5,285.2L443.4,283.6L437.4,282.1L433.4,278.2L437.7,276.3L441.9,274.3L446.2,272.3L450.1,268.8L453.9,265.3L457.8,263.3L461.8,261.3L457.6,267.6L456.8,272.7L462.9,274.3L469.0,275.9L473.5,276.6L478.0,277.3L481.7,274.8L485.4,272.3L489.4,271.3L493.3,270.3L497.3,269.3L501.1,271.1L504.9,273.0L509.8,276.6L514.8,280.3L508.9,281.0L505.4,282.8Z"/><path fill="#e7d3fd" d="M60,536.5L90,541.5L100.5,594.5L112,599L125,605L138,612L144,618L141,620.5L128,614L115,607.5L100,600L90,597L80,597L73,598L71,606L68,601L62,604L56,608L49,613L41,620L33,627L24,633L14,637.5L13.5,636L23,631L35,623L44,615L50,609L42,607L37,602L33,596L32,589L35,579L46,571L33,567L32,563L45,558L38,550L45,543Z M64,615l4,-2.5l1.5,1.5l-4,3z"/><path fill="#e3cdfc" d="M165,584.5l3,0l0.5,2.5l-3,0z M187,594l5,1l1,3l-5,0z M203,600l5,0l1,3l-5,0z M212,604l9,2l2,3l-8,0z M225,617l7,2l9,12l-6,2l-4,6l-4,-2l0,-10z"/></g><g><g transform="translate(85,233.5) scale(0.86,1)"><text class="dh">12</text><text class="d">12</text></g><g transform="translate(70,291) scale(0.86,1)"><text class="dh">8</text><text class="d">8</text></g><g transform="translate(50,416.5) scale(0.86,1)"><text class="wh">54</text><text class="w">54</text></g><g transform="translate(100,376.5) scale(0.86,1)"><text class="dh">6</text><text class="d">6</text></g><g transform="translate(135,308.5) scale(0.86,1)"><text class="dh">4</text><text class="d">4</text></g><g transform="translate(207.5,263.5) scale(0.86,1)"><text class="dh">4</text><text class="d">4</text></g><g transform="translate(223.5,335) scale(0.86,1)"><text class="dh">3</text><text class="d">3</text></g><g transform="translate(159,394) scale(0.86,1)"><text class="dh">6</text><text class="d">6</text></g><g transform="translate(241.5,406.5) scale(0.86,1)"><text class="dh">10</text><text class="d">10</text></g><g transform="translate(149,476) scale(0.86,1)"><text class="dh">11</text><text class="d">11</text></g><g transform="translate(226.5,483.5) scale(0.86,1)"><text class="dh">5</text><text class="d">5</text></g><g transform="translate(315,266) scale(0.86,1)"><text class="dh">3</text><text class="d">3</text></g><g transform="translate(315,317.5) scale(0.86,1)"><text class="dh">3</text><text class="d">3</text></g><g transform="translate(318.5,368.5) scale(0.86,1)"><text class="dh">5</text><text class="d">5</text></g><g transform="translate(335,421) scale(0.86,1)"><text class="dh">6</text><text class="d">6</text></g><g transform="translate(346,474) scale(0.86,1)"><text class="dh">7</text><text class="d">7</text></g><g transform="translate(328,548) scale(0.86,1)"><text class="wh">40</text><text class="w">40</text></g><g transform="translate(385,281.5) scale(0.86,1)"><text class="dh">10</text><text class="d">10</text></g><g transform="translate(399,360.5) scale(0.86,1)"><text class="dh">6</text><text class="d">6</text></g><g transform="translate(411,424) scale(0.86,1)"><text class="dh">10</text><text class="d">10</text></g><g transform="translate(414,486) scale(0.86,1)"><text class="dh">6</text><text class="d">6</text></g><g transform="translate(416.5,537.5) scale(0.86,1)"><text class="dh">8</text><text class="d">8</text></g><g transform="translate(443.5,316) scale(0.86,1)"><text class="dh">10</text><text class="d">10</text></g><g transform="translate(455,390) scale(0.86,1)"><text class="dh">19</text><text class="d">19</text></g><g transform="translate(503.5,333) scale(0.86,1)"><text class="dh">15</text><text class="d">15</text></g><g transform="translate(494,390.5) scale(0.86,1)"><text class="dh">11</text><text class="d">11</text></g><g transform="translate(535,381.5) scale(0.86,1)"><text class="dh">17</text><text class="d">17</text></g><g transform="translate(515.5,427.5) scale(0.86,1)"><text class="dh">8</text><text class="d">8</text></g><g transform="translate(500.5,461.5) scale(0.86,1)"><text class="dh">11</text><text class="d">11</text></g><g transform="translate(457.5,515) scale(0.86,1)"><text class="dh">6</text><text class="d">6</text></g><g transform="translate(499,513.5) scale(0.86,1)"><text class="dh">9</text><text class="d">9</text></g><g transform="translate(548,513.5) scale(0.86,1)"><text class="dh">16</text><text class="d">16</text></g><g transform="translate(585,581) scale(0.86,1)"><text class="wh">30</text><text class="w">30</text></g><g transform="translate(583,487) scale(0.86,1)"><text class="dh">9</text><text class="d">9</text></g><g transform="translate(610,453) scale(0.86,1)"><text class="dh">16</text><text class="d">16</text></g><g transform="translate(603.5,411.5) scale(0.86,1)"><text class="dh">13</text><text class="d">13</text></g><g transform="translate(570,402) scale(0.86,1)"><text class="dh">4</text><text class="d">4</text></g><g transform="translate(600,358.5) scale(0.86,1)"><text class="dh">19</text><text class="d">19</text></g><g transform="translate(627.5,309) scale(0.86,1)"><text class="wh">28</text><text class="w">28</text></g><g transform="translate(649,290.5) scale(0.86,1)"><text class="dh">3</text><text class="d">3</text></g><g transform="translate(665,294) scale(0.86,1)"><text class="dh">4</text><text class="d">4</text></g><g transform="translate(686,252.5) scale(0.86,1)"><text class="dh">4</text><text class="d">4</text></g><g transform="translate(660,331.5) scale(0.86,1)"><text class="dh">7</text><text class="d">7</text></g><g transform="translate(673.5,327.5) scale(0.86,1)"><text class="dh">4</text><text class="d">4</text></g><g transform="translate(640,350) scale(0.86,1)"><text class="dh">14</text><text class="d">14</text></g><g transform="translate(615,382.5) scale(0.86,1)"><text class="dh">10</text><text class="d">10</text></g><g transform="translate(636.5,388.5) scale(0.86,1)"><text class="dh">3</text><text class="d">3</text></g><g transform="translate(62,576) scale(0.86,1)"><text class="dh">3</text><text class="d">3</text></g><g transform="translate(231,631) scale(0.86,1)"><text class="dh">4</text><text class="d">4</text></g></g></svg>
</body></html>
